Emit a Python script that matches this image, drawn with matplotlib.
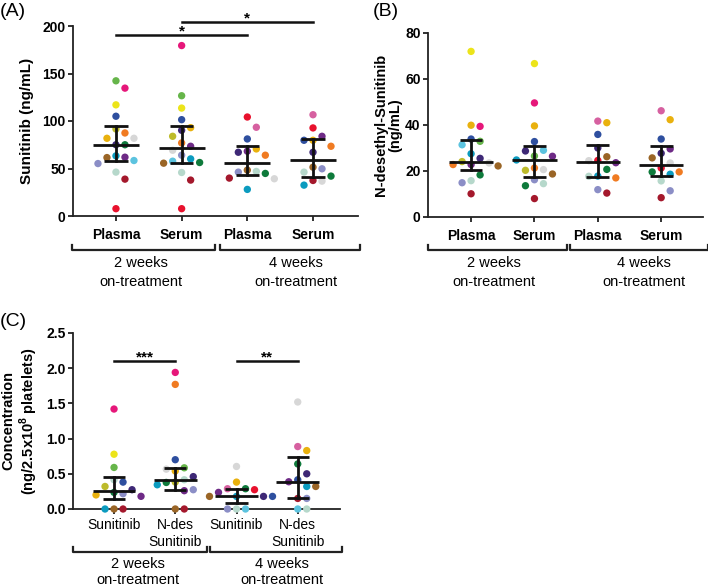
import matplotlib
matplotlib.use("Agg")
import matplotlib.pyplot as plt
import matplotlib.transforms as mtransforms
import numpy as np

plt.rcParams["font.family"] = ["Liberation Sans", "DejaVu Sans"]
plt.rcParams["mathtext.fontset"] = "custom"
plt.rcParams["mathtext.bf"] = "Liberation Sans:bold"
plt.rcParams["mathtext.rm"] = "Liberation Sans"

# ------------------------------------------
# patient colours (one colour per patient)
# ------------------------------------------
patient_colors = {
    "P1": "#e8112d", "P2": "#a4182c", "P3": "#e6177a", "P4": "#d660a0",
    "P5": "#f07b22", "P6": "#e9b10e", "P7": "#ece41a", "P8": "#bdbb2b",
    "P9": "#66b54a", "P10": "#0e7a3b", "P11": "#0b9bbf", "P12": "#5cc3df",
    "P13": "#2e4f9f", "P14": "#3e2876", "P15": "#6e2a86", "P16": "#8b8ec6",
    "P17": "#9a6526", "P18": "#d7d7d7", "P19": "#b6d8cb",
}

# ------------------------------------------
# (A) Sunitinib (ng/mL)
# ------------------------------------------
a_labels = ["Plasma", "Serum", "Plasma", "Serum"]
a_plasma_2w = [142.3, 134.6, 117, 105, 91.6, 87.4, 81.8, 81.8, 75, 75, 63.3, 58.4, 61.9, 61.5, 55.2, 46.2, 38.8, 7.7]
a_plasma_2w_pt = ["P9", "P3", "P7", "P13", "P8", "P5", "P6", "P18", "P14", "P10", "P11", "P12", "P15", "P17", "P16", "P19", "P2", "P1"]
a_serum_2w = [179.4, 126.6, 113.6, 101.4, 93, 90.2, 83.9, 76.9, 73.4, 69.2, 64, 60.1, 57.7, 56.3, 55.6, 45.8, 37.8, 7.7]
a_serum_2w_pt = ["P3", "P9", "P7", "P13", "P6", "P14", "P8", "P5", "P15", "P18", "P16", "P11", "P12", "P10", "P17", "P19", "P2", "P1"]
a_plasma_4w = [104.2, 93.4, 81.1, 70.6, 67.1, 68.2, 64, 48.3, 44.8, 46.9, 46.2, 39.2, 39.9, 28]
a_plasma_4w_pt = ["P1", "P4", "P13", "P6", "P14", "P15", "P5", "P17", "P10", "P19", "P16", "P18", "P2", "P11"]
a_serum_4w = [106.6, 92.7, 79.7, 79.7, 83.9, 73.4, 67.1, 49.7, 51.4, 42, 46.2, 37.4, 36.7, 32.5]
a_serum_4w_pt = ["P4", "P1", "P6", "P13", "P15", "P5", "P14", "P16", "P17", "P10", "P19", "P2", "P18", "P11"]

# ------------------------------------------
# (B) N-desethyl-Sunitinib (ng/mL)
# ------------------------------------------
b_labels = ["Plasma", "Serum", "Plasma", "Serum"]
b_plasma_2w = [72, 39.4, 39.9, 33.9, 32.9, 31.4, 27.5, 24.1, 25.5, 22.8, 22.2, 22.8, 23.5, 18.3, 14.9, 15.8, 10.1]
b_plasma_2w_pt = ["P7", "P3", "P6", "P13", "P9", "P12", "P11", "P8", "P14", "P15", "P17", "P5", "P18", "P10", "P16", "P19", "P2"]
b_serum_2w = [66.7, 49.6, 39.6, 32.8, 29, 28.7, 26.5, 26.4, 24.8, 21.3, 20.6, 20.3, 18.7, 16.2, 14.5, 13.6, 8]
b_serum_2w_pt = ["P7", "P3", "P6", "P13", "P12", "P14", "P9", "P15", "P11", "P5", "P18", "P8", "P17", "P16", "P19", "P10", "P2"]
b_plasma_4w = [41.7, 41, 35.9, 30, 26.2, 23.6, 24.5, 24.6, 20.7, 17.7, 17, 17.8, 10.4, 11.9]
b_plasma_4w_pt = ["P4", "P6", "P13", "P14", "P17", "P15", "P18", "P1", "P10", "P19", "P5", "P11", "P2", "P16"]
b_serum_4w = [46.2, 42.3, 33.9, 29.6, 27.7, 25.7, 21.3, 19.6, 19.6, 18.6, 23.5, 15.7, 11.4, 8.4]
b_serum_4w_pt = ["P4", "P6", "P13", "P15", "P14", "P17", "P1", "P10", "P5", "P11", "P18", "P19", "P16", "P2"]

# ------------------------------------------
# (C) Concentration (ng/2.5x10^8 platelets)
# ------------------------------------------
c_labels = ["Sunitinib", "N-des\nSunitinib", "Sunitinib", "N-des\nSunitinib"]
c_sun_2w = [1.42, 0.778, 0.59, 0.415, 0.382, 0.32, 0.236, 0.274, 0.217, 0.18, 0.2, 0, 0, 0]
c_sun_2w_pt = ["P3", "P7", "P9", "P19", "P13", "P8", "P10", "P14", "P16", "P15", "P6", "P17", "P2", "P11"]
c_ndes_2w = [1.94, 1.77, 0.70, 0.566, 0.585, 0.54, 0.46, 0.415, 0.344, 0.377, 0.382, 0.26, 0.274, 0, 0]
c_ndes_2w_pt = ["P3", "P5", "P13", "P18", "P9", "P6", "P14", "P19", "P11", "P10", "P8", "P15", "P16", "P17", "P2"]
c_sun_4w = [0.604, 0.382, 0.288, 0.274, 0.288, 0.236, 0.179, 0.179, 0.179, 0.179, 0, 0, 0]
c_sun_4w_pt = ["P18", "P6", "P10", "P1", "P4", "P15", "P11", "P14", "P17", "P13", "P19", "P12", "P16"]
c_ndes_4w = [1.52, 0.887, 0.83, 0.64, 0.5, 0.415, 0.32, 0.32, 0.387, 0.15, 0.15, 0, 0]
c_ndes_4w_pt = ["P18", "P4", "P6", "P10", "P14", "P13", "P11", "P17", "P15", "P2", "P16", "P12", "P19"]

group_names = ["2 weeks", "4 weeks"]

W, H = 708, 587
fig = plt.figure(figsize=(W / 100, H / 100), dpi=100)


def px_axes(left, right, bottom, top):
    # axes box given in pixel coords (top-left origin)
    return fig.add_axes([left / W, 1 - bottom / H, (right - left) / W, (bottom - top) / H])


def swarm(ax, x0, vals, slot_px=9.0, gap_px=10.5):
    # simple GraphPad-like column scatter: put each dot in the nearest free slot
    unit = ax.transData.transform((1, 0))[0] - ax.transData.transform((0, 0))[0]
    ypx = np.array([ax.transData.transform((x0, v))[1] for v in vals])
    slots = np.zeros(len(vals))
    placed = []
    for i in np.argsort(-np.array(vals), kind="stable"):
        for k in [0, 1, -1, 2, -2, 3, -3, 4, -4]:
            if all(not (s == k and abs(ypx[i] - y) < gap_px) for s, y in placed):
                slots[i] = k
                placed.append((k, ypx[i]))
                break
    return x0 + slots * slot_px / unit


def style_axes(ax, xlim, ylim, yticks, ylabels, xlabels, xbold, xpad):
    ax.set_xlim(*xlim)
    ax.set_ylim(*ylim)
    for side in ["top", "right"]:
        ax.spines[side].set_visible(False)
    for side in ["left", "bottom"]:
        ax.spines[side].set_linewidth(1.3)
        ax.spines[side].set_color("#222222")
        ax.spines[side].set_zorder(1)
    ax.set_yticks(yticks, ylabels, fontweight="bold", fontsize=10)
    ax.set_xticks(range(4), xlabels, fontweight="bold" if xbold else "normal", fontsize=10)
    ax.tick_params(axis="both", direction="out", length=3.8, width=1.3, color="#222222")
    ax.tick_params(axis="y", pad=1.5)
    ax.tick_params(axis="x", pad=xpad)
    ax.set_facecolor("none")


def draw_groups(ax, groups, patients):
    for x0, (vals, pts) in enumerate(zip(groups, patients)):
        xs = swarm(ax, x0, vals)
        ax.scatter(xs, vals, s=28, c=[patient_colors[p] for p in pts],
                   linewidths=0, zorder=3, clip_on=False)
        q1, med, q3 = np.percentile(vals, [25, 50, 75], method="weibull")
        ax.plot([x0 - 0.35, x0 + 0.35], [med, med], color="#111111", lw=2, zorder=4,
                solid_capstyle="butt")
        ax.plot([x0, x0], [q1, q3], color="#111111", lw=2, zorder=4)
        for q in (q1, q3):
            ax.plot([x0 - 0.18, x0 + 0.18], [q, q], color="#111111", lw=2, zorder=4,
                    solid_capstyle="butt")


def group_brackets(ax, spans, centers, y_line, y_l1, y_l2):
    tr = mtransforms.blended_transform_factory(ax.transData, fig.transFigure)
    for (x1, x2), xc, name in zip(spans, centers, group_names):
        yl = 1 - y_line / H
        yt = 1 - (y_line - 5) / H
        ax.plot([x1, x1, x2, x2], [yt, yl, yl, yt], color="#222222", lw=1.6,
                transform=tr, clip_on=False)
        ax.text(xc, 1 - y_l1 / H, name, transform=tr, ha="center", va="center", fontsize=10.5)
        ax.text(xc, 1 - y_l2 / H, "on-treatment", transform=tr, ha="center", va="center",
                fontsize=10.5)


def sig_bar(ax, x1, x2, y, stars):
    ax.plot([x1, x2], [y, y], color="#111111", lw=1.8, clip_on=False)
    ax.text((x1 + x2) / 2, y, stars, ha="center", va="baseline", fontsize=11,
            fontweight="bold")


# ---------------- panel A ----------------
axA = px_axes(73, 358, 216, 26)
style_axes(axA, (-0.654, 3.685), (0, 200), [0, 50, 100, 150, 200],
           ["0", "50", "100", "150", "200"], a_labels, True, 5.0)
draw_groups(axA, [a_plasma_2w, a_serum_2w, a_plasma_4w, a_serum_4w],
            [a_plasma_2w_pt, a_serum_2w_pt, a_plasma_4w_pt, a_serum_4w_pt])
sig_bar(axA, 0, 2, 190.5, "*")
sig_bar(axA, 1, 3, 204, "*")
group_brackets(axA, [(-0.67, 1.51), (1.58, 3.72)], [0.38, 2.74], 250, 263, 282)
fig.text(27 / W, 1 - 121 / H, "Sunitinib (ng/mL)", rotation=90, ha="center", va="center",
         fontsize=11, fontweight="bold")
fig.text(0 / W, 1 - 11 / H, "(A)", ha="left", va="center", fontsize=14)

# ---------------- panel B ----------------
axB = px_axes(428, 703, 217, 33)
style_axes(axB, (-0.68, 3.66), (0, 80), [0, 20, 40, 60, 80],
           ["0", "20", "40", "60", "80"], b_labels, True, 5.0)
draw_groups(axB, [b_plasma_2w, b_serum_2w, b_plasma_4w, b_serum_4w],
            [b_plasma_2w_pt, b_serum_2w_pt, b_plasma_4w_pt, b_serum_4w_pt])
group_brackets(axB, [(-0.68, 1.52), (1.56, 3.74)], [0.36, 2.72], 250, 263, 282)
fig.text(388 / W, 1 - 125 / H, "N-desethyl-Sunitinib\n(ng/mL)", rotation=90, ha="center",
         va="center", fontsize=10.5, fontweight="bold", linespacing=1.05)
fig.text(373 / W, 1 - 11 / H, "(B)", ha="left", va="center", fontsize=14)

# ---------------- panel C ----------------
axC = px_axes(73, 340, 509, 333)
style_axes(axC, (-0.67, 3.69), (0, 2.5), [0, 0.5, 1.0, 1.5, 2.0, 2.5],
           ["0.0", "0.5", "1.0", "1.5", "2.0", "2.5"], c_labels, False, 3.0)
draw_groups(axC, [c_sun_2w, c_ndes_2w, c_sun_4w, c_ndes_4w],
            [c_sun_2w_pt, c_ndes_2w_pt, c_sun_4w_pt, c_ndes_4w_pt])
sig_bar(axC, 0, 1, 2.10, "***")
sig_bar(axC, 2, 3, 2.10, "**")
group_brackets(axC, [(-0.67, 1.52), (1.57, 3.72)], [0.39, 2.74], 552, 564, 580)
fig.text(21 / W, 1 - 421 / H, "Concentration\n(ng/2.5x10$^{\\mathbf{8}}$ platelets)",
         rotation=90, ha="center", va="center", fontsize=10.5, fontweight="bold",
         linespacing=1.15)
fig.text(0 / W, 1 - 321 / H, "(C)", ha="left", va="center", fontsize=14)

fig.savefig("out.png", dpi=100)
